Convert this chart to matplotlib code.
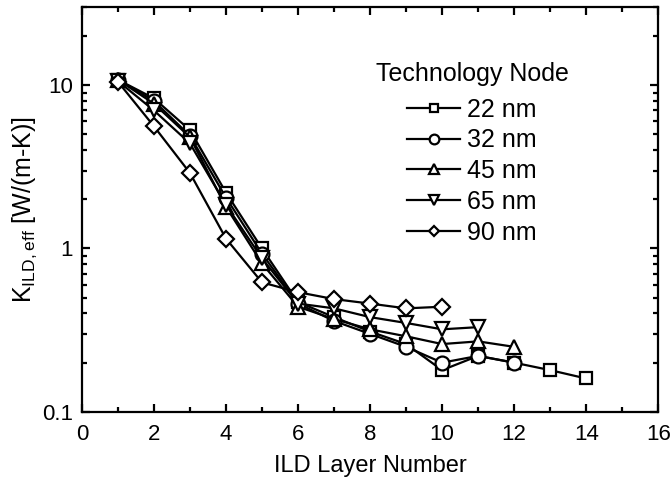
import numpy as np
import matplotlib
matplotlib.use("Agg")
import matplotlib.pyplot as plt
from matplotlib.ticker import FixedLocator, NullFormatter, MultipleLocator

plt.rcParams['font.family'] = ['Liberation Sans', 'DejaVu Sans']
plt.rcParams['mathtext.default'] = 'regular'

# data
x22 = [1, 2, 3, 4, 5, 6, 7, 8, 9, 10, 11, 12, 13, 14]
y22 = [10.8, 8.3, 5.3, 2.2, 1.0, 0.47, 0.38, 0.31, 0.26, 0.18, 0.22, 0.20, 0.18, 0.16]
x32 = [1, 2, 3, 4, 5, 6, 7, 8, 9, 10, 11, 12]
y32 = [10.8, 8.0, 4.9, 2.05, 0.93, 0.46, 0.36, 0.30, 0.25, 0.20, 0.22, 0.20]
x45 = [1, 2, 3, 4, 5, 6, 7, 8, 9, 10, 11, 12]
y45 = [10.8, 7.7, 4.8, 1.8, 0.81, 0.44, 0.37, 0.32, 0.29, 0.26, 0.27, 0.25]
x65 = [1, 2, 3, 4, 5, 6, 7, 8, 9, 10, 11]
y65 = [10.6, 7.0, 4.4, 1.85, 0.87, 0.46, 0.43, 0.38, 0.35, 0.32, 0.33]
x90 = [1, 2, 3, 4, 5, 6, 7, 8, 9, 10]
y90 = [10.5, 5.6, 2.9, 1.15, 0.62, 0.54, 0.49, 0.46, 0.43, 0.44]

labels = ['22 nm', '32 nm', '45 nm', '65 nm', '90 nm']
markers = ['s', 'o', '^', 'v', 'D']
sizes = [9, 10, 10, 10, 8]

fig = plt.figure(figsize=(6.71, 4.8), dpi=100)
ax = fig.add_axes([0.122, 0.142, 0.859, 0.843])

series = [(x22, y22), (x32, y32), (x45, y45), (x65, y65), (x90, y90)]
for (xs, ys), lab, m, ms in zip(series, labels, markers, sizes):
    ax.plot(xs, ys, color='black', lw=1.6, marker=m, ms=ms,
            mfc='white', mec='black', mew=1.6, label=lab)

ax.set_yscale('log')
ax.set_xlim(0, 16)
ax.set_ylim(0.1, 30)
ax.xaxis.set_major_locator(MultipleLocator(2))
ax.xaxis.set_minor_locator(MultipleLocator(1))
ax.yaxis.set_major_locator(FixedLocator([0.1, 1, 10]))
ax.set_yticklabels(['0.1', '1', '10'])
ax.yaxis.set_minor_locator(FixedLocator(
    [m * 10.0 ** e for e in (-1, 0, 1) for m in range(2, 10)]))
ax.yaxis.set_minor_formatter(NullFormatter())

ax.tick_params(which='both', direction='in', top=True, right=True,
               width=1.6, labelsize=16)
ax.tick_params(which='major', length=6)
ax.tick_params(which='minor', length=3.5)
ax.tick_params(axis='x', which='major', pad=9)
ax.tick_params(axis='y', which='major', pad=6.5)
for s in ax.spines.values():
    s.set_linewidth(1.6)

ax.set_xlabel('ILD Layer Number', fontsize=17, labelpad=7)
ax.set_ylabel(r'K$_{ILD,eff}$ [W/(m-K)]', fontsize=18, labelpad=2)

leg = ax.legend(title='Technology Node', loc='upper center',
                bbox_to_anchor=(472 / 671, 1 - 45 / 480),
                bbox_transform=fig.transFigure, frameon=False,
                fontsize=18, title_fontsize=18, markerscale=0.7,
                handlelength=2.1, labelspacing=0.27, handletextpad=0.28,
                borderpad=0.2)
leg._legend_box.sep = 8

fig.savefig('out.png', dpi=100)
